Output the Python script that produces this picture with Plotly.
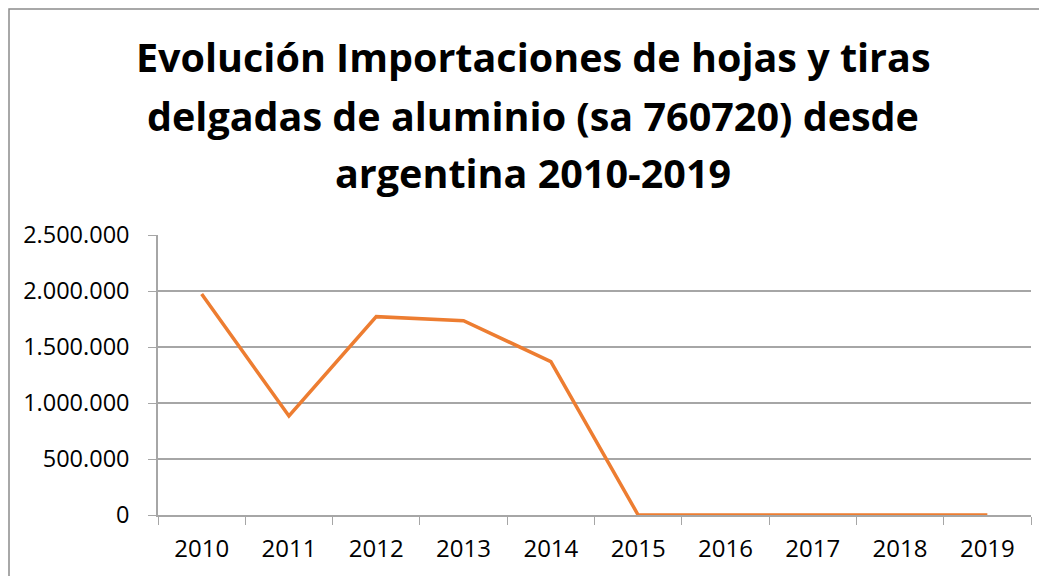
import plotly.graph_objects as go

years = ["2010", "2011", "2012", "2013", "2014", "2015", "2016", "2017", "2018", "2019"]
values = [1973000, 884000, 1771000, 1735000, 1369000, 0, 0, 0, 0, 0]
title_lines = ["Evolución Importaciones de hojas y tiras",
               "delgadas de aluminio (sa 760720) desde",
               "argentina 2010-2019"]
y_ticks = [0, 500000, 1000000, 1500000, 2000000, 2500000]

W, H = 1047, 576
OFF = 8  # page body margin
L, R, T, B = 158 - OFF, 16 + OFF, 235 - OFF, 61 + OFF
plot_h = H - T - B
plot_w = W - L - R

fig = go.Figure()
fig.add_trace(go.Scatter(x=years, y=values, mode="lines",
                         line=dict(color="#ED7D31", width=3.5),
                         showlegend=False, hoverinfo="x+y"))

title_centers_px = [57 - OFF, 116 - OFF, 173 - OFF]
cx = (533 - OFF - L) / plot_w
for txt, yc in zip(title_lines, title_centers_px):
    fig.add_annotation(text="<b>" + txt + "</b>", xref="paper", yref="paper",
                       x=cx, y=(H - B - yc) / plot_h, xanchor="center", yanchor="middle",
                       showarrow=False,
                       font=dict(family="Open Sans", size=39.5, color="#000000"))

# outer chart border (left/top edges visible, right/bottom off-page)
fig.add_shape(type="rect", xref="paper", yref="paper",
              x0=(1 - L) / plot_w, x1=(W + 20 - L) / plot_w,
              y0=(H - B - (H + 20)) / plot_h, y1=(H - B - 1) / plot_h,
              line=dict(color="#8C8C8C", width=1.5), fillcolor="rgba(0,0,0,0)", layer="below")

fig.update_layout(
    width=W, height=H,
    margin=dict(l=L, r=R, t=T, b=B),
    paper_bgcolor="white", plot_bgcolor="white",
    separators=",.",
    font=dict(family="Open Sans", color="#000000", size=24),
    xaxis=dict(type="category", tickson="boundaries", ticks="outside", ticklen=8,
               tickcolor="#A6A6A6", showgrid=False, showline=True, linecolor="#A6A6A6",
               linewidth=1.5, tickfont=dict(size=24), range=[-0.5, 9.5],
               ticklabelstandoff=11),
    yaxis=dict(range=[0, 2500000], tickvals=y_ticks, tickformat=",d", ticks="outside",
               ticklen=8, tickcolor="#A6A6A6", showgrid=True, gridcolor="#A6A6A6",
               gridwidth=1.5, showline=True, linecolor="#A6A6A6", linewidth=1.5,
               zeroline=False, tickfont=dict(size=23.5), ticklabelstandoff=14),
)

fig.write_html("out.html")
